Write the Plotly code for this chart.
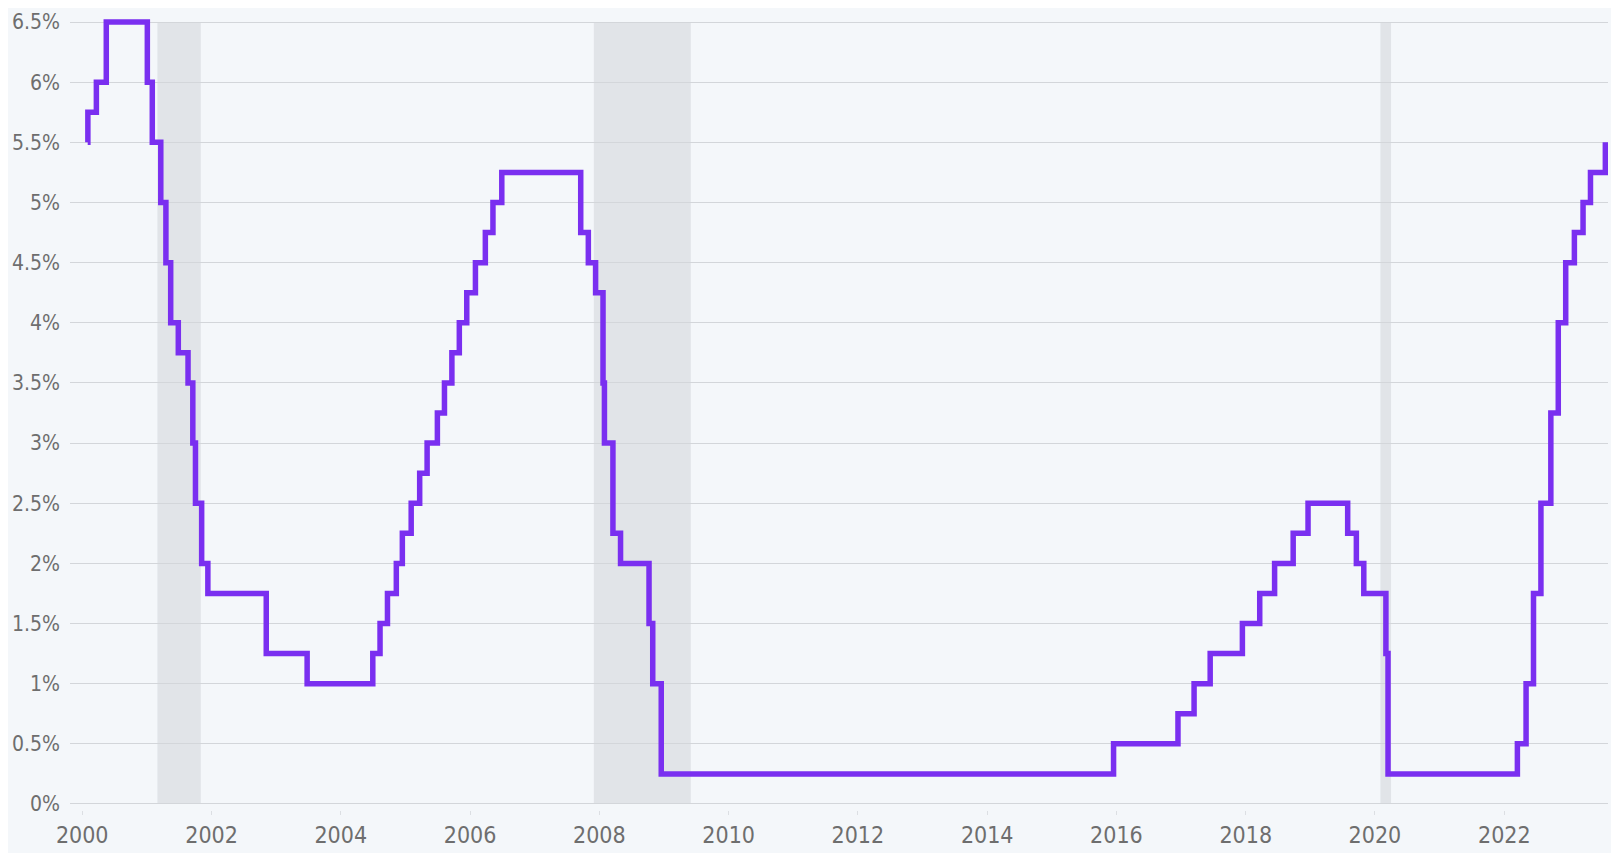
import plotly.graph_objects as go

# Fed funds target rate (upper bound), change dates and levels
dates = [
    "2000-02-01", "2000-02-02", "2000-03-21", "2000-05-16",
    "2001-01-03", "2001-01-31", "2001-03-20", "2001-04-18", "2001-05-15",
    "2001-06-27", "2001-08-21", "2001-09-17", "2001-10-02", "2001-11-06",
    "2001-12-11", "2002-11-06", "2003-06-25",
    "2004-06-30", "2004-08-10", "2004-09-21", "2004-11-10", "2004-12-14",
    "2005-02-02", "2005-03-22", "2005-05-03", "2005-06-30", "2005-08-09",
    "2005-09-20", "2005-11-01", "2005-12-13",
    "2006-01-31", "2006-03-28", "2006-05-10", "2006-06-29",
    "2007-09-18", "2007-10-31", "2007-12-11",
    "2008-01-22", "2008-01-30", "2008-03-18", "2008-04-30", "2008-10-08",
    "2008-10-29", "2008-12-16",
    "2015-12-16", "2016-12-14", "2017-03-15", "2017-06-14", "2017-12-13",
    "2018-03-21", "2018-06-13", "2018-09-26", "2018-12-19",
    "2019-07-31", "2019-09-18", "2019-10-30",
    "2020-03-03", "2020-03-15",
    "2022-03-16", "2022-05-04", "2022-06-15", "2022-07-27", "2022-09-21",
    "2022-11-02", "2022-12-14",
    "2023-02-01", "2023-03-22", "2023-05-03", "2023-07-26",
]
rates = [
    5.50, 5.75, 6.00, 6.50,
    6.00, 5.50, 5.00, 4.50, 4.00,
    3.75, 3.50, 3.00, 2.50, 2.00,
    1.75, 1.25, 1.00,
    1.25, 1.50, 1.75, 2.00, 2.25,
    2.50, 2.75, 3.00, 3.25, 3.50,
    3.75, 4.00, 4.25,
    4.50, 4.75, 5.00, 5.25,
    4.75, 4.50, 4.25,
    3.50, 3.00, 2.25, 2.00, 1.50,
    1.00, 0.25,
    0.50, 0.75, 1.00, 1.25, 1.50,
    1.75, 2.00, 2.25, 2.50,
    2.25, 2.00, 1.75,
    1.25, 0.25,
    0.50, 1.00, 1.75, 2.50, 3.25,
    4.00, 4.50,
    4.75, 5.00, 5.25, 5.50,
]

# Recession periods (shaded)
recession_starts = ["2001-03-01", "2007-12-01", "2020-02-01"]
recession_ends = ["2001-11-01", "2009-06-01", "2020-04-01"]

y_ticks = [0, 0.5, 1, 1.5, 2, 2.5, 3, 3.5, 4, 4.5, 5, 5.5, 6, 6.5]
y_tick_labels = ["0%", "0.5%", "1%", "1.5%", "2%", "2.5%", "3%", "3.5%",
                 "4%", "4.5%", "5%", "5.5%", "6%", "6.5%"]
x_ticks = ["2000-01-01", "2002-01-01", "2004-01-01", "2006-01-01", "2008-01-01",
           "2010-01-01", "2012-01-01", "2014-01-01", "2016-01-01", "2018-01-01",
           "2020-01-01", "2022-01-01"]
x_tick_labels = ["2000", "2002", "2004", "2006", "2008", "2010", "2012",
                 "2014", "2016", "2018", "2020", "2022"]

BG = "#f4f7fa"
FONT = "DejaVu Sans Condensed, Roboto, sans-serif"

fig = go.Figure()

for s, e in zip(recession_starts, recession_ends):
    fig.add_shape(type="rect", xref="x", yref="y", x0=s, x1=e, y0=0, y1=6.5,
                  fillcolor="#e1e4e8", line_width=0, layer="below")

fig.add_trace(go.Scatter(
    x=dates, y=rates, mode="lines",
    line=dict(shape="hv", color="#7a2ff0", width=5.5),
    hoverinfo="x+y", showlegend=False,
))

fig.update_layout(
    width=1611, height=845,
    margin=dict(l=62, r=11, t=2, b=43, autoexpand=False),
    paper_bgcolor=BG, plot_bgcolor=BG,
    font=dict(family=FONT, size=22, color="#6e6e6e"),
    xaxis=dict(
        type="date", range=["1999-10-24", "2023-08-10"],
        tickvals=x_ticks, ticktext=x_tick_labels,
        showgrid=False, zeroline=False, showline=False,
        ticks="outside", ticklen=4, tickcolor="#dcdfe3", tickwidth=1,
        ticklabelstandoff=0,
        tickfont=dict(family=FONT, size=23, color="#6e6e6e"),
        automargin=False,
    ),
    yaxis=dict(
        range=[-0.05, 6.6],
        tickvals=y_ticks, ticktext=y_tick_labels,
        showgrid=True, gridcolor="#d3d6da", gridwidth=1.2,
        zeroline=False, showline=False,
        ticklabelstandoff=9,
        tickfont=dict(family=FONT, size=21, color="#6e6e6e"),
        automargin=False,
    ),
)

fig.write_html("out.html")
